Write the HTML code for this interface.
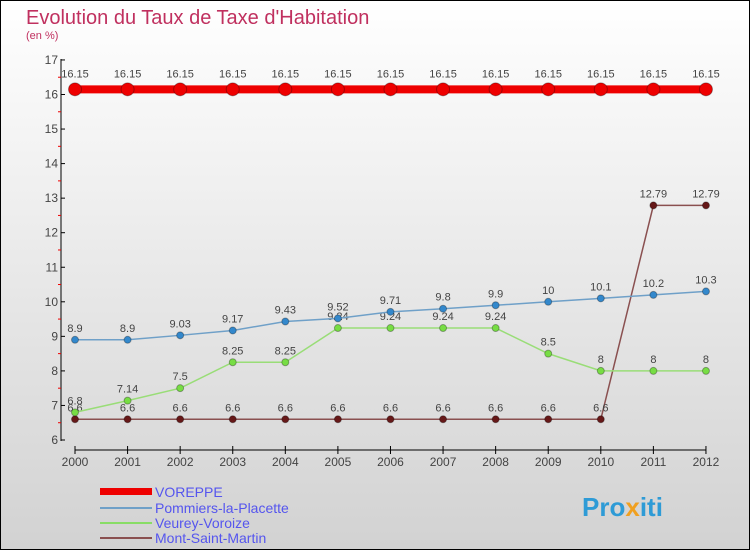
<!DOCTYPE html>
<html><head><meta charset="utf-8"><style>
body{margin:0}
#c{width:750px;height:550px;position:relative;overflow:hidden}
text{font-family:"Liberation Sans",sans-serif}
</style></head><body>
<div id="c">
<svg id="s" width="750" height="550" xmlns="http://www.w3.org/2000/svg">
<defs><linearGradient id="bg" x1="0" y1="0" x2="0" y2="1"><stop offset="0" stop-color="#ffffff"/><stop offset="1" stop-color="#d2d2d2"/></linearGradient></defs>
<rect x="0.5" y="0.5" width="749" height="549" fill="url(#bg)" stroke="#000"/>
<text x="26" y="24" font-size="20" fill="#c0305f">Evolution du Taux de Taxe d'Habitation</text>
<text x="26" y="39" font-size="11" fill="#c0305f">(en %)</text>
<g id="axes"></g><g id="series"></g>
<g>
<rect x="100" y="488" width="52" height="7" fill="#ee0000"/>
<text x="155" y="497" font-size="14" fill="#5555ee">VOREPPE</text>
<line x1="100" y1="508" x2="152" y2="508" stroke="#6fa0c8" stroke-width="2"/>
<text x="155" y="513" font-size="14" fill="#5555ee">Pommiers-la-Placette</text>
<line x1="100" y1="523" x2="152" y2="523" stroke="#88dd66" stroke-width="2"/>
<text x="155" y="528" font-size="14" fill="#5555ee">Veurey-Voroize</text>
<line x1="100" y1="538" x2="152" y2="538" stroke="#8a5050" stroke-width="2"/>
<text x="155" y="543" font-size="14" fill="#5555ee">Mont-Saint-Martin</text>
</g>
<text x="582" y="516" font-size="26" font-weight="bold" fill="#2e9bd6">Pro<tspan fill="#f0a020">x</tspan>iti</text>
</svg></div>
<script>
const years=[2000,2001,2002,2003,2004,2005,2006,2007,2008,2009,2010,2011,2012];
const voreppe=[16.15,16.15,16.15,16.15,16.15,16.15,16.15,16.15,16.15,16.15,16.15,16.15,16.15];
const pommiers=[8.9,8.9,9.03,9.17,9.43,9.52,9.71,9.8,9.9,10,10.1,10.2,10.3];
const veurey=[6.8,7.14,7.5,8.25,8.25,9.24,9.24,9.24,9.24,8.5,8,8,8];
const montsm=[6.6,6.6,6.6,6.6,6.6,6.6,6.6,6.6,6.6,6.6,6.6,12.79,12.79];
const yTicks=[6,7,8,9,10,11,12,13,14,15,16,17];
const NS="http://www.w3.org/2000/svg";
const X=i=>75+i*52.58, Y=v=>440-(v-6)*34.55;
function mk(t,a,p){const e=document.createElementNS(NS,t);for(const k in a)e.setAttribute(k,a[k]);p.appendChild(e);return e;}
const ax=document.getElementById('axes');
let l=mk('line',{x1:61,y1:59,x2:61,y2:441,stroke:'#000'},ax);


yTicks.forEach(v=>{
 mk('line',{x1:61,y1:Y(v),x2:65,y2:Y(v),stroke:'#000'},ax);
 if(v<17) mk('line',{x1:58,y1:Y(v+0.5),x2:61,y2:Y(v+0.5),stroke:'#e00'},ax);
 const t=mk('text',{x:58,y:Y(v)+4,'font-size':12,fill:'#444','text-anchor':'end'},ax);t.textContent=v;
 
 
});
l=mk('line',{x1:75,y1:450,x2:706,y2:450,stroke:'#000'},ax);


years.forEach((y,i)=>{
 mk('line',{x1:X(i),y1:446,x2:X(i),y2:454,stroke:'#000'},ax);
 const t=mk('text',{x:X(i),y:466,'font-size':12,fill:'#444','text-anchor':'middle'},ax);t.textContent=y;
 
 
});
const sg=document.getElementById('series');
function series(name,vals,col,w,r,dot,lab){
 const g=mk('g',{},sg);
 
 
 mk('polyline',{points:vals.map((v,i)=>X(i)+','+Y(v)).join(' '),fill:'none',stroke:col,'stroke-width':w},g);
 vals.forEach((v,i)=>{
  const c=mk('circle',{cx:X(i),cy:Y(v),r:r,fill:dot,stroke:'rgba(0,0,0,0.3)'},g);
  
  
  const t=mk('text',{x:X(i),y:Y(v)-(lab||8),'font-size':11,fill:'#444','text-anchor':'middle'},g);t.textContent=v;
 });
}
series('montsm',montsm,'#8a5050',1.5,3.5,'#661818');
series('veurey',veurey,'#99dd77',1.5,3.5,'#77dd44');
series('pommiers',pommiers,'#6fa0c8',1.5,3.5,'#3388cc');
series('voreppe',voreppe,'#ee0000',8,6.5,'#ee0000',12);
</script>
</body></html>
